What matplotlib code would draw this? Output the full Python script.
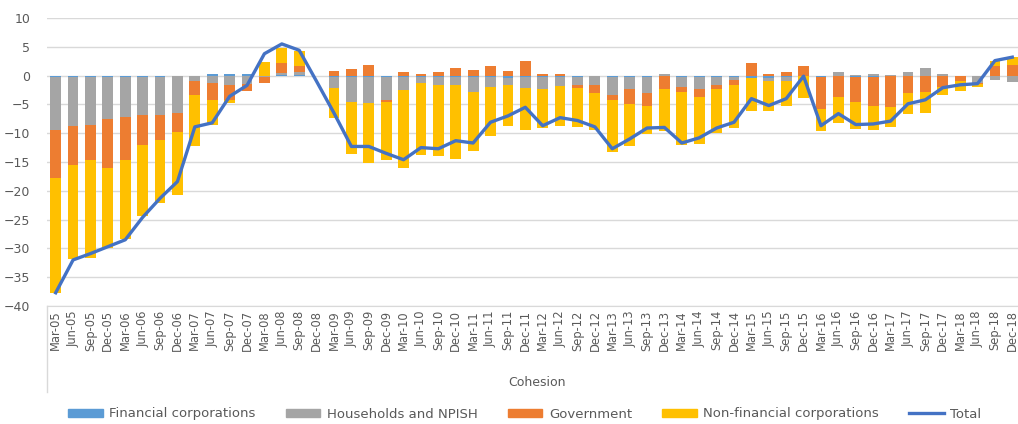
import numpy as np
import matplotlib
matplotlib.use("Agg")
import matplotlib.pyplot as plt
from matplotlib.lines import Line2D
from matplotlib.patches import Patch

# quarterly labels Mar-05 .. Dec-18
quarters = [f"{m}-{y:02d}" for y in range(5, 19) for m in ["Mar", "Jun", "Sep", "Dec"]]

financial = [-0.3, -0.3, -0.3, -0.3, -0.3, -0.3, -0.2, -0.1, 0.0, 0.2, 0.2, 0.2,
             0.0, 0.1, 0.1, 0.0, -0.2, -0.2, -0.2, -0.2, -0.2, -0.2, -0.2, -0.2,
             -0.2, -0.3, -0.5, -0.2, -0.3, -0.3, -0.2, -0.1, -0.3, -0.2, -0.3, -0.1,
             -0.2, -0.2, -0.2, -0.3, -0.4, -0.4, -0.3, 0.0, -0.2, -0.1, -0.2, -0.2,
             -0.1, -0.1, -0.1, -0.1, 0.0, 0.0, 0.0, 0.0]
households = [-9.1, -8.4, -8.2, -7.3, -6.9, -6.6, -6.7, -6.4, -1.0, -1.2, -1.6, -1.5,
              -0.2, 0.3, 0.6, 0.0, -1.9, -4.3, -4.5, -4.1, -2.3, -1.1, -1.5, -1.4,
              -2.6, -1.7, -1.1, -1.9, -2.1, -1.55, -1.4, -1.5, -3.0, -2.2, -2.7, 0.3,
              -1.8, -2.1, -1.4, -0.4, 0.0, -0.5, -0.7, 0.0, 0.0, 0.6, 0.1, 0.3,
              0.1, 0.6, 1.3, 0.35, 0.0, -1.2, -0.8, -1.1]
government = [-8.3, -6.8, -6.1, -8.4, -7.4, -5.2, -4.3, -3.3, -2.3, -3.1, -2.6, -1.2,
              -1.0, 1.8, 0.9, 0.0, 0.8, 1.2, 1.9, -0.3, 0.6, 0.35, 0.6, 1.3,
              1.0, 1.6, 0.8, 2.5, 0.2, 0.2, -0.5, -1.4, -0.9, -2.6, -2.3, -2.2,
              -0.9, -1.4, -0.7, -0.9, 2.2, 0.3, 0.6, 1.6, -5.6, -3.6, -4.3, -5.0,
              -5.3, -2.9, -2.8, -1.9, -1.0, -0.2, 1.6, 1.9]
non_financial = [-20.0, -16.3, -17.1, -13.9, -13.8, -12.3, -10.9, -11.0, -9.0, -4.2, -0.5, 0.0,
                 2.3, 2.6, 2.6, 0.0, -5.3, -9.1, -10.4, -10.1, -13.5, -12.4, -12.2, -12.9,
                 -10.3, -8.4, -7.1, -7.4, -6.7, -6.85, -6.8, -6.4, -9.1, -7.3, -4.9, -7.4,
                 -9.2, -8.1, -7.6, -7.5, -5.8, -5.3, -4.2, -3.9, -3.9, -4.6, -4.7, -4.3,
                 -3.5, -3.6, -3.6, -1.3, -1.6, -0.6, 0.9, 1.3]
total = [-37.7, -32.0, -30.9, -29.7, -28.5, -24.6, -21.3, -18.4, -8.9, -8.2, -3.6, -1.7,
         3.8, 5.5, 4.4, -1.0, -6.5, -12.3, -12.3, -13.5, -14.6, -12.5, -12.7, -11.3,
         -11.7, -8.1, -7.0, -5.5, -8.7, -7.3, -7.8, -8.9, -12.7, -11.0, -9.1, -9.0,
         -11.7, -10.8, -9.1, -8.1, -4.0, -5.2, -4.0, -0.1, -8.7, -6.6, -8.5, -8.4,
         -7.9, -4.9, -4.2, -2.1, -1.6, -1.4, 2.6, 3.2]

series = [("Financial corporations", financial, "#5B9BD5"),
          ("Households and NPISH", households, "#A5A5A5"),
          ("Government", government, "#ED7D31"),
          ("Non-financial corporations", non_financial, "#FFC000")]

text_col = "#595959"
grid_col = "#D9D9D9"
plt.rcParams["font.family"] = ["DejaVu Sans"]

W, H = 1018, 424
fig = plt.figure(figsize=(W / 100, H / 100), dpi=100)
ax = fig.add_axes([47 / W, (H - 306) / H, (1021 - 47) / W, (306 - 18) / H])

x = np.arange(len(quarters))
pos_base = np.zeros(len(x))
neg_base = np.zeros(len(x))
for name, vals, col in series:
    v = np.array(vals, dtype=float)
    bottom = np.where(v >= 0, pos_base, neg_base)
    ax.bar(x, v, bottom=bottom, width=0.62, color=col, zorder=2)
    pos_base += np.where(v >= 0, v, 0)
    neg_base += np.where(v < 0, v, 0)

ax.plot(x, total, color="#4472C4", lw=2.4, zorder=3, solid_joinstyle="round")

ax.set_xlim(-0.5, len(x) - 0.5)
ax.set_ylim(-40, 10)
ax.set_yticks(range(-40, 11, 5))
ax.grid(axis="y", color=grid_col, lw=1, zorder=0)
ax.set_axisbelow(True)
for s in ["top", "right", "left"]:
    ax.spines[s].set_visible(False)
ax.spines["bottom"].set_color(grid_col)
ax.set_xticks(x)
ax.set_xticklabels(quarters, rotation=90, fontsize=8.3, color=text_col)
ax.tick_params(axis="x", length=0, pad=3)
ax.tick_params(axis="y", length=0, pad=12, labelsize=9, labelcolor=text_col)

# outer category divider and group label
fig.add_artist(Line2D([47 / W, 47 / W], [(H - 306) / H, (H - 392) / H], color=grid_col, lw=1))
fig.text(537 / W, 1 - 383 / H, "Cohesion", ha="center", va="center", fontsize=9, color=text_col)

handles = [Patch(color=c) for _, _, c in series] + [Line2D([], [], color="#4472C4", lw=2.4)]
labels = [n for n, _, _ in series] + ["Total"]
fig.legend(handles, labels, loc="center", bbox_to_anchor=(525 / W, 1 - 414 / H), ncol=5,
           frameon=False, fontsize=9.5, labelcolor=text_col, handlelength=2.6, handleheight=0.6,
           columnspacing=2.3, handletextpad=0.5)

fig.savefig("out.png", dpi=100)
